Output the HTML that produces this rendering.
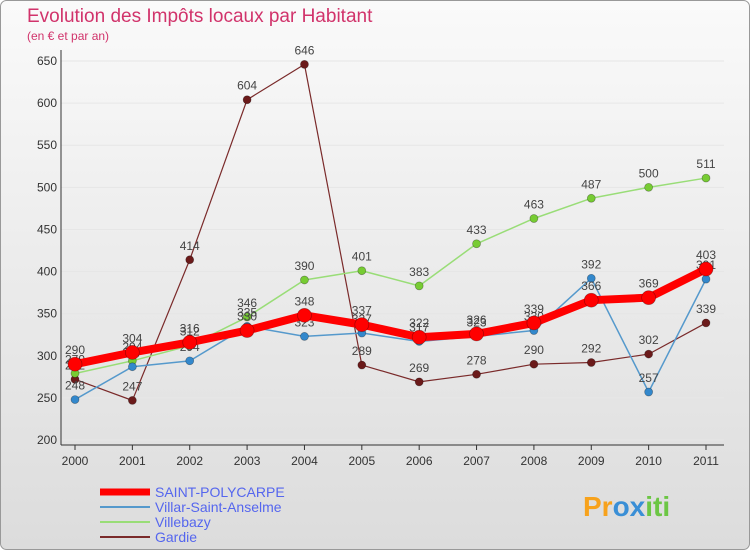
<!DOCTYPE html>
<html><head><meta charset="utf-8"><style>
body{margin:0;width:750px;height:550px;overflow:hidden;font-family:"Liberation Sans",sans-serif}
</style></head><body>
<svg width="750" height="550" style="position:absolute;left:0;top:0">
<defs><linearGradient id="bg" x1="0" y1="0" x2="0" y2="1"><stop offset="0" stop-color="#fafafa"/><stop offset="1" stop-color="#dcdcdc"/></linearGradient></defs>
<rect x="0.5" y="0.5" width="749" height="549" rx="6" fill="url(#bg)" stroke="#999"/>
<text x="27" y="22" font-size="19" fill="#d1336b">Evolution des Impôts locaux par Habitant</text>
<text x="27" y="40" font-size="12" fill="#d1336b">(en € et par an)</text>
<g id="axes"></g><g id="series"></g><g id="legend"></g>
<text x="583" y="516" font-size="28" font-weight="bold"><tspan fill="#f7a21c">Pr</tspan><tspan fill="#3a8fd6">ox</tspan><tspan fill="#6cc644">iti</tspan></text>
</svg>
<script>
const years=["2000","2001","2002","2003","2004","2005","2006","2007","2008","2009","2010","2011"];
const yTicks=[200,250,300,350,400,450,500,550,600,650];
const saint=[290,304,316,330,348,337,322,326,339,366,369,403];
const villar=[248,287,294,335,323,327,317,323,330,392,257,391];
const villebazy=[279,294,312,346,390,401,383,433,463,487,500,511];
const gardie=[272,247,414,604,646,289,269,278,290,292,302,339];
const NS="http://www.w3.org/2000/svg";
const x0=75,x1=706,yTop=61,yBot=440,vMin=200,vMax=650;
const X=i=>x0+i*(x1-x0)/(years.length-1);
const Y=v=>yBot-(v-vMin)*(yBot-yTop)/(vMax-vMin);
function el(t,a,p){const e=document.createElementNS(NS,t);for(const k in a)e.setAttribute(k,a[k]);p.appendChild(e);return e;}
const ax=document.getElementById('axes');
yTicks.forEach(v=>{
 const l=el('line',{x1:x0-14,x2:x1+18,y1:Y(v),y2:Y(v),stroke:'#e6e6e6'},ax);
 
 
 const t=el('text',{x:x0-18,y:Y(v)+4,'font-size':12,'text-anchor':'end',fill:'#333'},ax);t.textContent=v;
 
 
});
const ya=el('line',{x1:61,x2:61,y1:50,y2:445,stroke:'#333'},ax);


const xa=el('line',{x1:61,x2:724,y1:445,y2:445,stroke:'#333'},ax);


years.forEach((y,i)=>{
 el('line',{x1:X(i),x2:X(i),y1:445,y2:450,stroke:'#333'},ax);
 const t=el('text',{x:X(i),y:465,'font-size':12,'text-anchor':'middle',fill:'#333'},ax);t.textContent=y;
 
 
});
const sg=document.getElementById('series');
function series(name,vals,color,w,r,dot){
 const g=el('g',{},sg);
 
 
 el('polyline',{points:vals.map((v,i)=>X(i)+','+Y(v)).join(' '),fill:'none',stroke:color,'stroke-width':w,'stroke-linejoin':'round'},g);
 vals.forEach((v,i)=>{
  const c=el('circle',{cx:X(i),cy:Y(v),r:r,fill:dot,stroke:'rgba(0,0,0,0.35)','stroke-width':0.7},g);
  
  
  const t=el('text',{x:X(i),y:Y(v)-10,'font-size':12,'text-anchor':'middle',fill:'#444'},g);t.textContent=v;
  
  
 });
}
series('gardie',gardie,'#7a2a2a',1.2,4,'#6b1a1a');
series('villebazy',villebazy,'#99dd77',1.5,4,'#77cc33');
series('villar',villar,'#5599cc',1.5,4,'#3388cc');
series('saint-polycarpe',saint,'#ff0000',8,7,'#ff0000');
const lg=document.getElementById('legend');
[['SAINT-POLYCARPE','#ff0000',7],['Villar-Saint-Anselme','#5599cc',2],['Villebazy','#99dd77',2],['Gardie','#7a2a2a',2]].forEach((s,i)=>{
 const y=492+i*15;
 const l=el('line',{x1:100,x2:150,y1:y,y2:y,stroke:s[1],'stroke-width':s[2]},lg);
 
 
 const t=el('text',{x:155,y:y+5,'font-size':14,fill:'#5566ee'},lg);t.textContent=s[0];
 
 
});
</script>
</body></html>
